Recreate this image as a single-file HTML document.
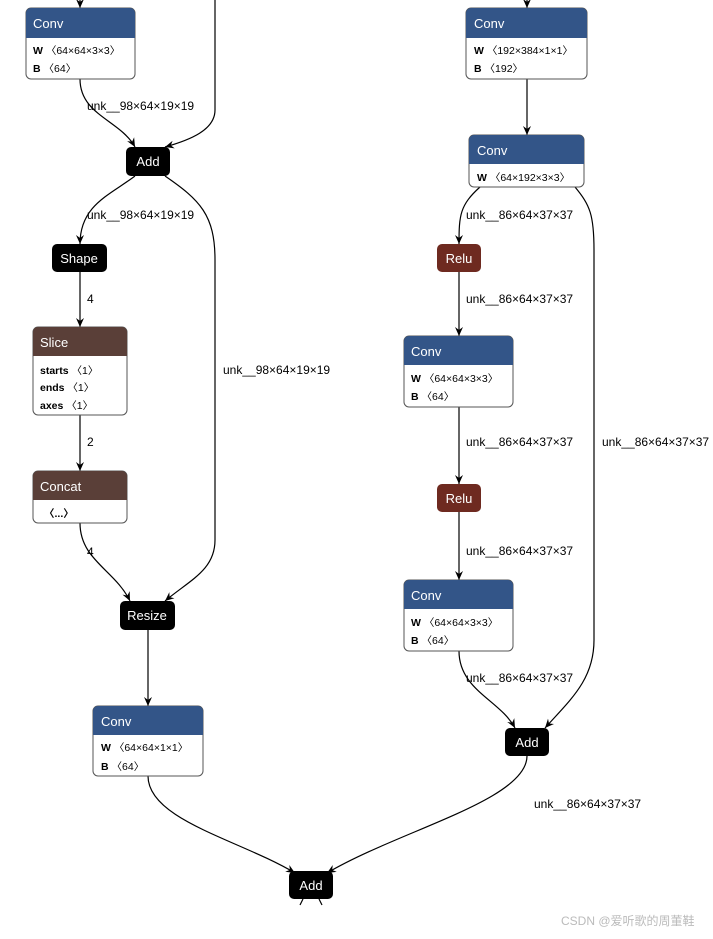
<!DOCTYPE html>
<html><head><meta charset="utf-8"><style>
html,body{margin:0;padding:0;background:#fff;}
svg text{font-family:"Liberation Sans","Noto Sans CJK SC",sans-serif;}
.l{font-size:12px;fill:#000;}
.h{font-size:13px;fill:#fff;}
.a{font-size:10.5px;fill:#000;}
.b{font-weight:bold;}
</style></head><body>
<svg width="713" height="934" viewBox="0 0 713 934" xmlns="http://www.w3.org/2000/svg">
<defs><marker id="ar" markerWidth="10" markerHeight="10" refX="9" refY="5" orient="auto" markerUnits="userSpaceOnUse"><path d="M0,1 L9,5 L0,9 L3,5 z" fill="#000"/></marker></defs>
<g fill="none" stroke="#000" stroke-width="1.2">
<path d="M80,0 V8" marker-end="url(#ar)"/>
<path d="M215,0 V110 C215,130 190,140 165,147" marker-end="url(#ar)"/>
<path d="M80,79 C80,115 120,120 135,147" marker-end="url(#ar)"/>
<path d="M135,176 C110,195 80,205 80,244" marker-end="url(#ar)"/>
<path d="M165,176 C200,200 215,215 215,260 V540 C215,570 190,580 165,601" marker-end="url(#ar)"/>
<path d="M80,272 V327" marker-end="url(#ar)"/>
<path d="M80,415 V471" marker-end="url(#ar)"/>
<path d="M80,523 C80,560 115,570 130,601" marker-end="url(#ar)"/>
<path d="M148,630 V706" marker-end="url(#ar)"/>
<path d="M148,776 C148,820 240,840 295,873" marker-end="url(#ar)"/>
<path d="M527,0 V8" marker-end="url(#ar)"/>
<path d="M527,79 V135" marker-end="url(#ar)"/>
<path d="M480,187 C460,205 459,215 459,244" marker-end="url(#ar)"/>
<path d="M575,187 C590,205 594,215 594,250 V640 C594,680 570,700 545,728" marker-end="url(#ar)"/>
<path d="M459,272 V336" marker-end="url(#ar)"/>
<path d="M459,407 V484" marker-end="url(#ar)"/>
<path d="M459,512 V580" marker-end="url(#ar)"/>
<path d="M459,651 C459,690 500,700 515,728" marker-end="url(#ar)"/>
<path d="M527,756 C527,800 400,830 327,873" marker-end="url(#ar)"/>
<path d="M303,899 L300,905 M319,899 L322,905"/>
</g>
<rect x="26" y="8" width="109" height="71" rx="5" fill="#fff" stroke="#555"/>
<path d="M26,38 V13 a5,5 0 0 1 5,-5 H130 a5,5 0 0 1 5,5 V38 z" fill="#335588"/>
<text x="33" y="28" class="h">Conv</text>
<text x="33" y="54" class="a"><tspan class="b">W</tspan> 〈64×64×3×3〉</text>
<text x="33" y="72" class="a"><tspan class="b">B</tspan> 〈64〉</text>
<rect x="466" y="8" width="121" height="71" rx="5" fill="#fff" stroke="#555"/>
<path d="M466,38 V13 a5,5 0 0 1 5,-5 H582 a5,5 0 0 1 5,5 V38 z" fill="#335588"/>
<text x="474" y="28" class="h">Conv</text>
<text x="474" y="54" class="a"><tspan class="b">W</tspan> 〈192×384×1×1〉</text>
<text x="474" y="72" class="a"><tspan class="b">B</tspan> 〈192〉</text>
<rect x="469" y="135" width="115" height="52" rx="5" fill="#fff" stroke="#555"/>
<path d="M469,164 V140 a5,5 0 0 1 5,-5 H579 a5,5 0 0 1 5,5 V164 z" fill="#335588"/>
<text x="477" y="155" class="h">Conv</text>
<text x="477" y="181" class="a"><tspan class="b">W</tspan> 〈64×192×3×3〉</text>
<rect x="33" y="327" width="94" height="88" rx="5" fill="#fff" stroke="#555"/>
<path d="M33,356 V332 a5,5 0 0 1 5,-5 H122 a5,5 0 0 1 5,5 V356 z" fill="#5a3f38"/>
<text x="40" y="347" class="h">Slice</text>
<text x="40" y="374" class="a"><tspan class="b">starts</tspan> 〈1〉</text>
<text x="40" y="391" class="a"><tspan class="b">ends</tspan> 〈1〉</text>
<text x="40" y="409" class="a"><tspan class="b">axes</tspan> 〈1〉</text>
<rect x="33" y="471" width="94" height="52" rx="5" fill="#fff" stroke="#555"/>
<path d="M33,500 V476 a5,5 0 0 1 5,-5 H122 a5,5 0 0 1 5,5 V500 z" fill="#5a3f38"/>
<text x="40" y="491" class="h">Concat</text>
<text x="44" y="517" class="a b">〈...〉</text>
<rect x="404" y="336" width="109" height="71" rx="5" fill="#fff" stroke="#555"/>
<path d="M404,365 V341 a5,5 0 0 1 5,-5 H508 a5,5 0 0 1 5,5 V365 z" fill="#335588"/>
<text x="411" y="356" class="h">Conv</text>
<text x="411" y="382" class="a"><tspan class="b">W</tspan> 〈64×64×3×3〉</text>
<text x="411" y="400" class="a"><tspan class="b">B</tspan> 〈64〉</text>
<rect x="404" y="580" width="109" height="71" rx="5" fill="#fff" stroke="#555"/>
<path d="M404,609 V585 a5,5 0 0 1 5,-5 H508 a5,5 0 0 1 5,5 V609 z" fill="#335588"/>
<text x="411" y="600" class="h">Conv</text>
<text x="411" y="626" class="a"><tspan class="b">W</tspan> 〈64×64×3×3〉</text>
<text x="411" y="644" class="a"><tspan class="b">B</tspan> 〈64〉</text>
<rect x="93" y="706" width="110" height="70" rx="5" fill="#fff" stroke="#555"/>
<path d="M93,735 V711 a5,5 0 0 1 5,-5 H198 a5,5 0 0 1 5,5 V735 z" fill="#335588"/>
<text x="101" y="726" class="h">Conv</text>
<text x="101" y="751" class="a"><tspan class="b">W</tspan> 〈64×64×1×1〉</text>
<text x="101" y="770" class="a"><tspan class="b">B</tspan> 〈64〉</text>
<rect x="126" y="147" width="44" height="29" rx="5" fill="#000"/><text x="148" y="166" class="h" text-anchor="middle">Add</text>
<rect x="52" y="244" width="55" height="28" rx="5" fill="#000"/><text x="79" y="263" class="h" text-anchor="middle">Shape</text>
<rect x="120" y="601" width="55" height="29" rx="5" fill="#000"/><text x="147" y="620" class="h" text-anchor="middle">Resize</text>
<rect x="289" y="871" width="44" height="28" rx="5" fill="#000"/><text x="311" y="890" class="h" text-anchor="middle">Add</text>
<rect x="437" y="244" width="44" height="28" rx="5" fill="#6e2a20"/><text x="459" y="263" class="h" text-anchor="middle">Relu</text>
<rect x="437" y="484" width="44" height="28" rx="5" fill="#6e2a20"/><text x="459" y="503" class="h" text-anchor="middle">Relu</text>
<rect x="505" y="728" width="44" height="28" rx="5" fill="#000"/><text x="527" y="747" class="h" text-anchor="middle">Add</text>
<text x="87" y="110" class="l">unk__98×64×19×19</text>
<text x="87" y="219" class="l">unk__98×64×19×19</text>
<text x="87" y="303" class="l">4</text>
<text x="87" y="446" class="l">2</text>
<text x="87" y="556" class="l">4</text>
<text x="223" y="374" class="l">unk__98×64×19×19</text>
<text x="466" y="219" class="l">unk__86×64×37×37</text>
<text x="466" y="303" class="l">unk__86×64×37×37</text>
<text x="466" y="446" class="l">unk__86×64×37×37</text>
<text x="602" y="446" class="l">unk__86×64×37×37</text>
<text x="466" y="555" class="l">unk__86×64×37×37</text>
<text x="466" y="682" class="l">unk__86×64×37×37</text>
<text x="534" y="808" class="l">unk__86×64×37×37</text>
<text x="561" y="925" style="font-size:12px;fill:#bbb;">CSDN @爱听歌的周董鞋</text>
</svg>
</body></html>
